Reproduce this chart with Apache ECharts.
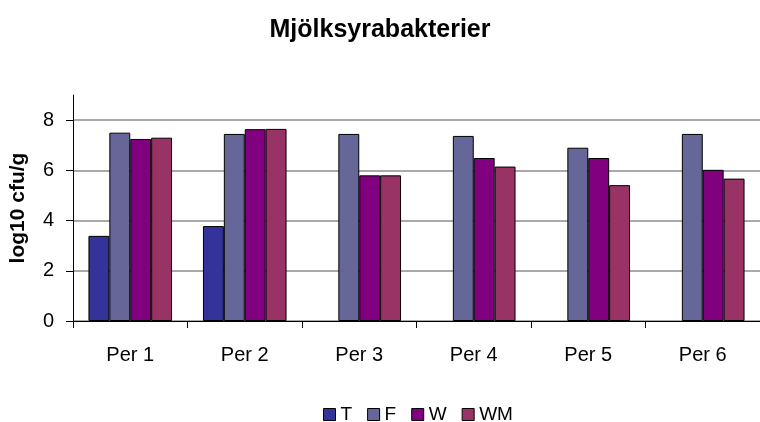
<!DOCTYPE html>
<html>
<head>
<meta charset="utf-8">
<script src="https://cdn.jsdelivr.net/npm/echarts@6/dist/echarts.min.js"></script>
<style>
  html, body { margin: 0; padding: 0; background: #fff; }
  #chart { width: 760px; height: 422px; }
</style>
</head>
<body>
<div id="chart"></div>
<script>
const categories = ['Per 1', 'Per 2', 'Per 3', 'Per 4', 'Per 5', 'Per 6'];
const seriesNames = ['T', 'F', 'W', 'WM'];
const valuesT = [3.39, 3.78, null, null, null, null];
const valuesF = [7.50, 7.45, 7.45, 7.37, 6.90, 7.45];
const valuesW = [7.25, 7.64, 5.80, 6.49, 6.49, 6.02];
const valuesWM = [7.30, 7.65, 5.80, 6.15, 5.41, 5.67];
const yTicks = [0, 2, 4, 6, 8];

const colors = ['#333399', '#666699', '#800080', '#993366'];
const font = 'Liberation Sans, Arial, sans-serif';

const chart = echarts.init(document.getElementById('chart'));

const makeSeries = (name, data, i) => ({
  name,
  type: 'bar',
  data,
  barGap: '0%',
  barCategoryGap: '27%',
  itemStyle: { color: colors[i], borderColor: '#000', borderWidth: 1 },
  emphasis: { disabled: true }
});

chart.setOption({
  animation: false,
  title: {
    text: 'Mjölksyrabakterier',
    left: 'center',
    top: 13,
    textStyle: { fontFamily: font, fontSize: 25, fontWeight: 'bold', color: '#000' }
  },
  legend: {
    data: seriesNames,
    left: 318,
    top: 400,
    orient: 'horizontal',
    icon: 'rect',
    itemWidth: 12,
    itemHeight: 12,
    itemGap: 15,
    itemStyle: { borderColor: '#000', borderWidth: 1 },
    textStyle: { fontFamily: font, fontSize: 19, color: '#000' }
  },
  grid: { left: 72, right: 0, top: 95, bottom: 101, containLabel: false },
  xAxis: {
    type: 'category',
    data: categories,
    axisLine: { lineStyle: { color: '#000', width: 1 } },
    axisTick: { show: true, length: 7, lineStyle: { color: '#000' } },
    axisLabel: { fontFamily: font, fontSize: 20, color: '#000', margin: 24 }
  },
  yAxis: {
    type: 'value',
    min: 0,
    max: 9,
    interval: 2,
    name: 'log10 cfu/g',
    nameLocation: 'middle',
    nameGap: 44,
    nameTextStyle: { fontFamily: font, fontSize: 21, fontWeight: 'bold', color: '#000' },
    axisLine: { show: true, lineStyle: { color: '#000', width: 1 } },
    axisTick: { show: true, length: 7, lineStyle: { color: '#000' }, customValues: yTicks },
    axisLabel: { fontFamily: font, fontSize: 20, color: '#000', margin: 19, customValues: yTicks },
    splitLine: {
      show: true,
      lineStyle: { color: ['#8c8c8c', '#8c8c8c', '#8c8c8c', '#8c8c8c', '#8c8c8c', 'rgba(0,0,0,0)'], width: 1.5 }
    }
  },
  series: [
    makeSeries('T', valuesT, 0),
    makeSeries('F', valuesF, 1),
    makeSeries('W', valuesW, 2),
    makeSeries('WM', valuesWM, 3)
  ]
});
</script>
</body>
</html>
